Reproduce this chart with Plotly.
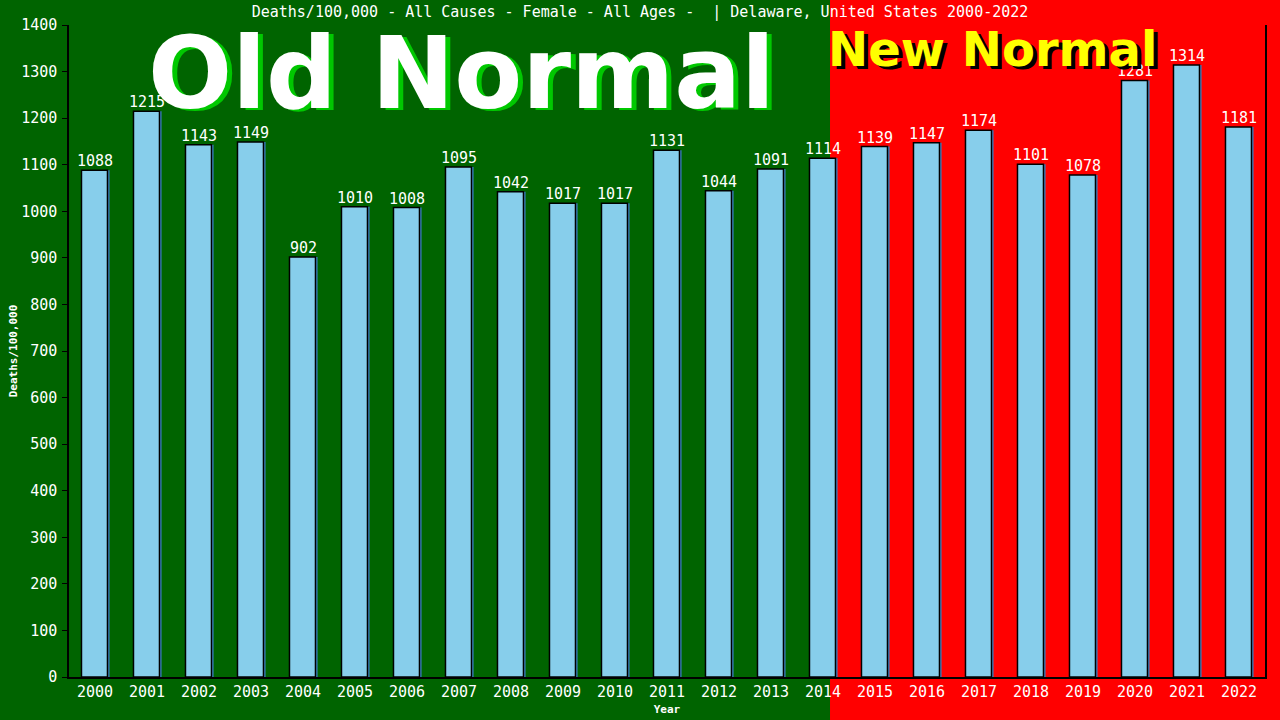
import plotly.graph_objects as go

years = [str(y) for y in range(2000, 2023)]
deaths = [1088, 1215, 1143, 1149, 902, 1010, 1008, 1095, 1042, 1017, 1017, 1131,
          1044, 1091, 1114, 1139, 1147, 1174, 1101, 1078, 1281, 1314, 1181]
y_ticks = list(range(0, 1500, 100))

title_text = "Deaths/100,000 - All Causes - Female - All Ages -  | Delaware, United States 2000-2022"
mono = "DejaVu Sans Mono"
bold = "DejaVu Sans"

fig = go.Figure()

# blue "shadow" bar slightly to the right, then the main bar on top
fig.add_trace(go.Bar(
    x=years, y=deaths,
    width=0.5, offset=-0.22,
    marker=dict(color="#3b7fc0", line=dict(width=0)),
    hoverinfo="skip", showlegend=False))

fig.add_trace(go.Bar(
    x=years, y=deaths,
    width=0.5, offset=-0.26,
    marker=dict(color="#87ceeb", line=dict(color="black", width=1.5)),
    showlegend=False))

# value labels just above each bar (category axis -> position by index)
for i, v in enumerate(deaths):
    fig.add_annotation(x=i, y=v, text=str(v), showarrow=False,
                       xanchor="center", yanchor="bottom", yshift=-2,
                       font=dict(family=mono, size=15, color="white"))

# red "new normal" background
fig.add_shape(type="rect", xref="paper", yref="paper",
              x0=0.6363, x1=1.02, y0=-0.08, y1=1.05,
              fillcolor="#ff0000", line=dict(width=0), layer="below")

# big overlay texts with drop shadows
old_pos = dict(xref="paper", yref="paper", x=0.3285, y=0.925,
               xanchor="center", yanchor="middle", showarrow=False)
new_pos = dict(xref="paper", yref="paper", x=0.772, y=0.963,
               xanchor="center", yanchor="middle", showarrow=False)
fig.add_annotation(text="Old Normal", xshift=5, yshift=-2, **old_pos,
                   font=dict(family=bold, size=99, color="#00c800", weight="bold"))
fig.add_annotation(text="Old Normal", **old_pos,
                   font=dict(family=bold, size=99, color="white", weight="bold"))
fig.add_annotation(text="New Normal", xshift=4, yshift=-3, **new_pos,
                   font=dict(family=bold, size=48, color="black", weight="bold"))
fig.add_annotation(text="New Normal", **new_pos,
                   font=dict(family=bold, size=48, color="#ffff00", weight="bold"))

fig.update_layout(
    width=1280, height=720,
    margin=dict(l=69, r=15, t=25, b=43),
    paper_bgcolor="#006400",
    plot_bgcolor="rgba(0,0,0,0)",
    barmode="overlay",
    title=dict(text=title_text, x=0.5, xanchor="center", y=0.983, yanchor="middle",
               font=dict(family=mono, size=15, color="white")),
    font=dict(family=mono, color="white"),
)

fig.update_xaxes(
    type="category", range=[-0.5, len(years) - 0.5], automargin=False,
    showgrid=False, showline=True, linecolor="black", linewidth=1.5,
    ticks="", tickfont=dict(family=mono, size=15, color="white"),
    title=dict(text="Year", font=dict(family=mono, size=11, color="white", weight="bold"),
               standoff=6),
)
fig.update_yaxes(
    range=[0, 1400], tickvals=y_ticks, automargin=False,
    showgrid=False, zeroline=False, showline=True, mirror=True,
    linecolor="black", linewidth=1.5,
    ticks="outside", ticklen=5, tickcolor="black", ticklabelstandoff=2,
    tickfont=dict(family=mono, size=15, color="white"),
    title=dict(text="Deaths/100,000", font=dict(family=mono, size=11, color="white", weight="bold"),
               standoff=1),
)

fig.write_html("out.html", config={"displayModeBar": False},
               post_script="document.body.style.margin='0';")
